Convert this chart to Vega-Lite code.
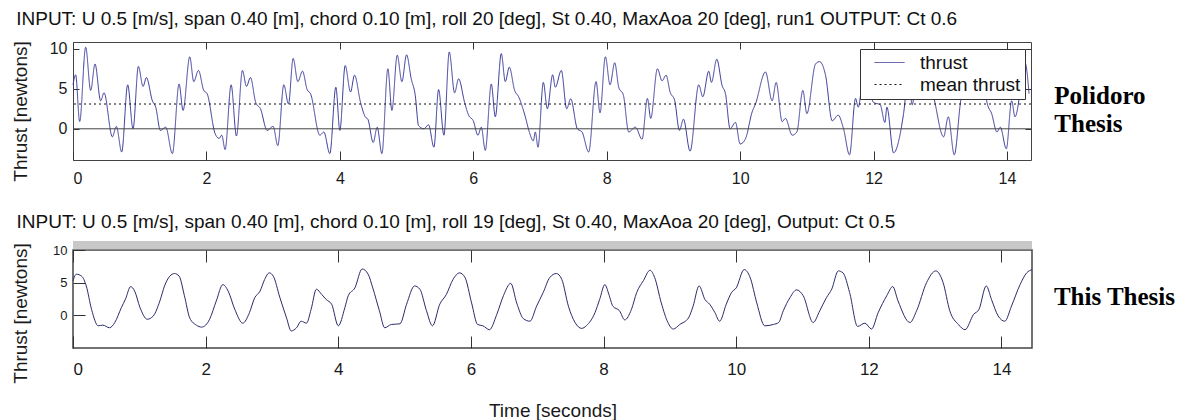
{
  "$schema": "https://vega.github.io/schema/vega-lite/v6.json",
  "background": "white",
  "padding": {"left": 10, "top": 9, "right": 0, "bottom": 0},
  "spacing": 25,
  "resolve": {"legend": {"color": "independent", "strokeDash": "independent"}},
  "config": {
    "font": "Liberation Sans",
    "view": {"stroke": "#444", "strokeWidth": 1},
    "axis": {"domain": false, "grid": false, "labelFont": "Liberation Sans", "titleFont": "Liberation Sans", "labelColor": "#1a1a1a", "titleColor": "#1a1a1a", "titleFontWeight": "normal", "tickColor": "#333"},
    "title": {"font": "Liberation Sans", "fontSize": 19, "fontWeight": "normal", "color": "#111", "anchor": "start"},
    "legend": {"orient": "none", "legendX": 787, "legendY": 7, "fillColor": "white", "strokeColor": "#333", "padding": 4, "labelFontSize": 19, "labelFont": "Liberation Sans", "labelColor": "#111", "symbolType": "M-2.5,0H2.5", "symbolSize": 144, "symbolStrokeWidth": 1, "rowPadding": 2, "symbolOffset": 16, "labelOffset": 21}
  },
  "datasets": {
    "polidoro": [
      {"t":0.0,"thrust":5.5},{"t":0.04,"thrust":6.75},{"t":0.10,"thrust":0.9},{"t":0.19,"thrust":10.2},{"t":0.265,"thrust":4.8},{"t":0.33,"thrust":8.1},{"t":0.415,"thrust":3.5},{"t":0.465,"thrust":4.5},{"t":0.59,"thrust":-1.0},{"t":0.65,"thrust":0.3},{"t":0.73,"thrust":-2.9},{"t":0.82,"thrust":5.5},{"t":0.90,"thrust":0.0},{"t":0.98,"thrust":7.8},{"t":1.05,"thrust":5.3},{"t":1.10,"thrust":6.4},{"t":1.19,"thrust":3.5},{"t":1.24,"thrust":2.7},{"t":1.31,"thrust":-0.2},{"t":1.39,"thrust":0.2},{"t":1.49,"thrust":-3.1},{"t":1.59,"thrust":5.6},{"t":1.65,"thrust":2.3},{"t":1.75,"thrust":9.0},{"t":1.81,"thrust":5.9},{"t":1.88,"thrust":7.3},{"t":1.96,"thrust":4.8},{"t":2.01,"thrust":4.4},{"t":2.13,"thrust":-0.6},{"t":2.19,"thrust":-1.2},{"t":2.23,"thrust":-0.8},{"t":2.28,"thrust":-2.6},{"t":2.37,"thrust":5.5},{"t":2.45,"thrust":-0.9},{"t":2.54,"thrust":7.3},{"t":2.60,"thrust":5.3},{"t":2.66,"thrust":6.4},{"t":2.74,"thrust":3.25},{"t":2.81,"thrust":2.5},{"t":2.91,"thrust":-0.2},{"t":3.00,"thrust":0.3},{"t":3.07,"thrust":-2.1},{"t":3.16,"thrust":5.5},{"t":3.23,"thrust":3.1},{"t":3.30,"thrust":8.8},{"t":3.37,"thrust":5.9},{"t":3.44,"thrust":7.2},{"t":3.51,"thrust":4.9},{"t":3.56,"thrust":4.4},{"t":3.70,"thrust":-0.8},{"t":3.76,"thrust":-0.4},{"t":3.85,"thrust":-3.1},{"t":3.94,"thrust":5.2},{"t":4.00,"thrust":-0.2},{"t":4.08,"thrust":7.9},{"t":4.16,"thrust":4.6},{"t":4.22,"thrust":6.7},{"t":4.31,"thrust":3.3},{"t":4.38,"thrust":1.5},{"t":4.42,"thrust":1.2},{"t":4.50,"thrust":-1.7},{"t":4.56,"thrust":0.2},{"t":4.63,"thrust":-3.1},{"t":4.72,"thrust":7.5},{"t":4.78,"thrust":2.3},{"t":4.86,"thrust":9.2},{"t":4.93,"thrust":5.9},{"t":5.0,"thrust":9.25},{"t":5.07,"thrust":6.25},{"t":5.13,"thrust":4.2},{"t":5.18,"thrust":0.4},{"t":5.26,"thrust":0.0},{"t":5.33,"thrust":0.5},{"t":5.41,"thrust":-2.3},{"t":5.48,"thrust":4.9},{"t":5.56,"thrust":-0.8},{"t":5.64,"thrust":9.6},{"t":5.72,"thrust":4.5},{"t":5.78,"thrust":6.25},{"t":5.87,"thrust":3.3},{"t":5.93,"thrust":1.7},{"t":6.0,"thrust":1.0},{"t":6.07,"thrust":-0.8},{"t":6.12,"thrust":0.2},{"t":6.18,"thrust":-2.7},{"t":6.27,"thrust":5.6},{"t":6.33,"thrust":1.5},{"t":6.42,"thrust":9.4},{"t":6.48,"thrust":5.9},{"t":6.54,"thrust":7.7},{"t":6.62,"thrust":4.8},{"t":6.68,"thrust":4.0},{"t":6.78,"thrust":1.5},{"t":6.84,"thrust":-0.4},{"t":6.90,"thrust":-1.5},{"t":6.93,"thrust":-0.4},{"t":6.97,"thrust":-2.3},{"t":7.05,"thrust":5.8},{"t":7.11,"thrust":2.5},{"t":7.19,"thrust":6.75},{"t":7.23,"thrust":5.2},{"t":7.32,"thrust":7.3},{"t":7.40,"thrust":2.5},{"t":7.46,"thrust":3.75},{"t":7.56,"thrust":0.0},{"t":7.63,"thrust":-0.4},{"t":7.73,"thrust":-2.9},{"t":7.84,"thrust":5.9},{"t":7.90,"thrust":2.0},{"t":7.98,"thrust":9.0},{"t":8.05,"thrust":5.5},{"t":8.12,"thrust":8.25},{"t":8.18,"thrust":5.2},{"t":8.25,"thrust":4.2},{"t":8.33,"thrust":-0.4},{"t":8.43,"thrust":0.2},{"t":8.53,"thrust":-1.3},{"t":8.61,"thrust":3.8},{"t":8.66,"thrust":1.3},{"t":8.76,"thrust":7.5},{"t":8.83,"thrust":6.0},{"t":8.89,"thrust":6.7},{"t":8.95,"thrust":4.6},{"t":9.02,"thrust":3.5},{"t":9.09,"thrust":-0.2},{"t":9.15,"thrust":1.2},{"t":9.25,"thrust":-2.8},{"t":9.38,"thrust":5.5},{"t":9.44,"thrust":4.0},{"t":9.53,"thrust":7.2},{"t":9.57,"thrust":5.8},{"t":9.65,"thrust":8.7},{"t":9.73,"thrust":5.4},{"t":9.78,"thrust":4.4},{"t":9.85,"thrust":0.0},{"t":9.93,"thrust":0.8},{"t":10.0,"thrust":-1.9},{"t":10.08,"thrust":-1.25},{"t":10.18,"thrust":2.1},{"t":10.23,"thrust":3.1},{"t":10.38,"thrust":7.1},{"t":10.48,"thrust":3.5},{"t":10.54,"thrust":5.8},{"t":10.63,"thrust":0.9},{"t":10.68,"thrust":1.3},{"t":10.78,"thrust":-0.8},{"t":10.85,"thrust":-0.4},{"t":10.94,"thrust":4.8},{"t":11.0,"thrust":1.9},{"t":11.13,"thrust":8.1},{"t":11.19,"thrust":8.4},{"t":11.28,"thrust":6.7},{"t":11.38,"thrust":1.0},{"t":11.47,"thrust":1.7},{"t":11.55,"thrust":0.0},{"t":11.64,"thrust":-3.25},{"t":11.73,"thrust":3.8},{"t":11.77,"thrust":2.7},{"t":11.85,"thrust":6.5},{"t":11.93,"thrust":5.0},{"t":12.0,"thrust":3.3},{"t":12.1,"thrust":3.0},{"t":12.17,"thrust":0.8},{"t":12.20,"thrust":2.7},{"t":12.30,"thrust":-3.0},{"t":12.45,"thrust":1.9},{"t":12.52,"thrust":6.5},{"t":12.58,"thrust":3.0},{"t":12.66,"thrust":8.5},{"t":12.73,"thrust":6.0},{"t":12.80,"thrust":7.8},{"t":12.88,"thrust":5.0},{"t":12.92,"thrust":3.3},{"t":13.05,"thrust":-1.0},{"t":13.12,"thrust":1.5},{"t":13.21,"thrust":-3.25},{"t":13.30,"thrust":3.1},{"t":13.36,"thrust":6.5},{"t":13.42,"thrust":4.5},{"t":13.50,"thrust":8.5},{"t":13.57,"thrust":6.0},{"t":13.63,"thrust":7.5},{"t":13.70,"thrust":3.3},{"t":13.77,"thrust":1.9},{"t":13.85,"thrust":-0.4},{"t":13.90,"thrust":0.2},{"t":13.99,"thrust":-2.5},{"t":14.07,"thrust":3.5},{"t":14.12,"thrust":1.5},{"t":14.20,"thrust":5.0},{"t":14.24,"thrust":8.1},{"t":14.27,"thrust":8.3},{"t":14.30,"thrust":7.1},{"t":14.33,"thrust":4.4}
    ],
    "thesis": [
      {"t":0.0,"thrust":5.3},{"t":0.05,"thrust":6.3},{"t":0.13,"thrust":6.0},{"t":0.20,"thrust":4.5},{"t":0.28,"thrust":0.9},{"t":0.38,"thrust":-1.6},{"t":0.45,"thrust":-1.5},{"t":0.55,"thrust":-1.9},{"t":0.63,"thrust":-1.1},{"t":0.73,"thrust":1.2},{"t":0.79,"thrust":2.45},{"t":0.87,"thrust":4.4},{"t":0.93,"thrust":3.7},{"t":1.01,"thrust":1.2},{"t":1.12,"thrust":-0.6},{"t":1.21,"thrust":-0.1},{"t":1.31,"thrust":2.2},{"t":1.38,"thrust":4.5},{"t":1.46,"thrust":6.0},{"t":1.53,"thrust":6.4},{"t":1.60,"thrust":6.0},{"t":1.68,"thrust":3.0},{"t":1.76,"thrust":-0.4},{"t":1.86,"thrust":-1.5},{"t":1.94,"thrust":-1.8},{"t":2.06,"thrust":-0.6},{"t":2.16,"thrust":2.2},{"t":2.26,"thrust":4.7},{"t":2.34,"thrust":3.7},{"t":2.44,"thrust":0.9},{"t":2.56,"thrust":-1.2},{"t":2.66,"thrust":0.4},{"t":2.74,"thrust":2.7},{"t":2.82,"thrust":3.7},{"t":2.89,"thrust":5.5},{"t":2.96,"thrust":6.5},{"t":3.02,"thrust":6.0},{"t":3.12,"thrust":2.7},{"t":3.22,"thrust":-0.4},{"t":3.29,"thrust":-2.4},{"t":3.37,"thrust":-1.9},{"t":3.44,"thrust":-0.9},{"t":3.52,"thrust":-1.2},{"t":3.59,"thrust":0.9},{"t":3.67,"thrust":4.0},{"t":3.75,"thrust":3.2},{"t":3.82,"thrust":2.4},{"t":3.90,"thrust":1.7},{"t":4.0,"thrust":-1.6},{"t":4.10,"thrust":1.2},{"t":4.15,"thrust":3.0},{"t":4.25,"thrust":4.2},{"t":4.36,"thrust":7.1},{"t":4.45,"thrust":6.3},{"t":4.52,"thrust":4.2},{"t":4.62,"thrust":0.7},{"t":4.70,"thrust":-1.9},{"t":4.80,"thrust":-1.4},{"t":4.93,"thrust":-1.3},{"t":5.03,"thrust":1.7},{"t":5.15,"thrust":4.5},{"t":5.23,"thrust":4.0},{"t":5.33,"thrust":0.7},{"t":5.42,"thrust":-1.6},{"t":5.53,"thrust":1.7},{"t":5.63,"thrust":3.2},{"t":5.73,"thrust":5.5},{"t":5.83,"thrust":6.5},{"t":5.91,"thrust":5.8},{"t":6.01,"thrust":1.9},{"t":6.10,"thrust":-1.4},{"t":6.18,"thrust":-1.6},{"t":6.28,"thrust":-2.2},{"t":6.39,"thrust":0.15},{"t":6.49,"thrust":3.0},{"t":6.60,"thrust":4.9},{"t":6.69,"thrust":1.9},{"t":6.79,"thrust":-0.5},{"t":6.89,"thrust":-0.9},{"t":6.99,"thrust":1.4},{"t":7.09,"thrust":3.5},{"t":7.19,"thrust":5.8},{"t":7.29,"thrust":6.4},{"t":7.37,"thrust":5.5},{"t":7.47,"thrust":1.4},{"t":7.57,"thrust":-1.1},{"t":7.67,"thrust":-2.0},{"t":7.74,"thrust":-1.6},{"t":7.87,"thrust":0.4},{"t":7.94,"thrust":2.4},{"t":8.02,"thrust":4.7},{"t":8.08,"thrust":3.2},{"t":8.14,"thrust":1.4},{"t":8.24,"thrust":0.7},{"t":8.32,"thrust":-0.7},{"t":8.42,"thrust":0.9},{"t":8.50,"thrust":3.5},{"t":8.60,"thrust":5.3},{"t":8.70,"thrust":6.9},{"t":8.77,"thrust":5.8},{"t":8.87,"thrust":1.9},{"t":8.97,"thrust":-1.1},{"t":9.05,"thrust":-2.1},{"t":9.15,"thrust":-1.4},{"t":9.28,"thrust":-0.4},{"t":9.35,"thrust":1.4},{"t":9.44,"thrust":4.5},{"t":9.53,"thrust":2.4},{"t":9.60,"thrust":1.7},{"t":9.68,"thrust":0.4},{"t":9.75,"thrust":-0.9},{"t":9.85,"thrust":1.7},{"t":9.93,"thrust":3.5},{"t":10.0,"thrust":4.2},{"t":10.12,"thrust":7.0},{"t":10.21,"thrust":5.8},{"t":10.31,"thrust":1.9},{"t":10.43,"thrust":-1.6},{"t":10.56,"thrust":-1.4},{"t":10.64,"thrust":-1.1},{"t":10.71,"thrust":0.7},{"t":10.81,"thrust":2.7},{"t":10.91,"thrust":3.9},{"t":11.01,"thrust":3.0},{"t":11.16,"thrust":-1.1},{"t":11.26,"thrust":0.7},{"t":11.36,"thrust":2.7},{"t":11.44,"thrust":4.0},{"t":11.54,"thrust":6.8},{"t":11.61,"thrust":6.5},{"t":11.71,"thrust":3.5},{"t":11.83,"thrust":-1.7},{"t":11.94,"thrust":-1.2},{"t":12.04,"thrust":-2.1},{"t":12.14,"thrust":0.4},{"t":12.27,"thrust":3.0},{"t":12.36,"thrust":4.4},{"t":12.44,"thrust":2.2},{"t":12.62,"thrust":-1.1},{"t":12.72,"thrust":0.7},{"t":12.87,"thrust":5.0},{"t":13.01,"thrust":6.8},{"t":13.12,"thrust":5.0},{"t":13.22,"thrust":0.7},{"t":13.35,"thrust":-1.4},{"t":13.45,"thrust":-2.2},{"t":13.58,"thrust":0.15},{"t":13.66,"thrust":0.9},{"t":13.77,"thrust":4.5},{"t":13.85,"thrust":2.4},{"t":13.95,"thrust":-0.1},{"t":14.05,"thrust":-0.9},{"t":14.15,"thrust":1.4},{"t":14.28,"thrust":4.7},{"t":14.38,"thrust":6.5},{"t":14.46,"thrust":7.0}
    ]
  },
  "vconcat": [
    {
      "width": 958,
      "height": 118,
      "title": {"text": "INPUT: U 0.5 [m/s], span 0.40 [m], chord 0.10 [m], roll 20 [deg], St 0.40, MaxAoa 20 [deg], run1 OUTPUT: Ct 0.6", "offset": 12, "dx": 5},
      "resolve": {"axis": {"x": "independent", "y": "independent"}},
      "layer": [
        {
          "data": {"name": "polidoro"},
          "transform": [{"fold": ["thrust"], "as": ["series", "value"]}],
          "mark": {"type": "line", "interpolate": "monotone", "strokeWidth": 1},
          "encoding": {
            "x": {"field": "t", "type": "quantitative", "scale": {"domain": [0, 14.36], "nice": false, "zero": false}, "axis": {"orient": "bottom", "values": [0, 2, 4, 6, 8, 10, 12, 14], "tickSize": -9, "labelPadding": 19, "labelFontSize": 16, "title": null}},
            "y": {"field": "value", "type": "quantitative", "scale": {"domain": [-3.9, 10.85], "nice": false, "zero": false}, "axis": {"orient": "left", "values": [0, 5, 10], "tickSize": -6, "labelPadding": 12, "labelFontSize": 16, "title": "Thrust [newtons]", "titleFontSize": 19, "titlePadding": 19, "titleY": 69}},
            "color": {"field": "series", "type": "nominal", "scale": {"domain": ["thrust", "mean thrust"], "range": ["#3c3c9c", "#111111"]}, "legend": {"title": null}},
            "strokeDash": {"field": "series", "type": "nominal", "scale": {"domain": ["thrust", "mean thrust"], "range": [[1, 0], [2, 3]]}, "legend": {"title": null}}
          }
        },
        {
          "data": {"values": [{"mean thrust": 3.1}]},
          "transform": [{"fold": ["mean thrust"], "as": ["series", "value"]}],
          "mark": {"type": "rule", "strokeWidth": 1},
          "encoding": {
            "y": {"field": "value", "type": "quantitative", "scale": {"domain": [-3.9, 10.85], "nice": false, "zero": false}, "axis": null},
            "color": {"field": "series", "type": "nominal", "scale": {"domain": ["thrust", "mean thrust"], "range": ["#3c3c9c", "#111111"]}, "legend": {"title": null}},
            "strokeDash": {"field": "series", "type": "nominal", "scale": {"domain": ["thrust", "mean thrust"], "range": [[1, 0], [2, 3]]}, "legend": {"title": null}}
          }
        },
        {
          "data": {"values": [{}]},
          "mark": {"type": "rule", "color": "#444", "strokeWidth": 1},
          "encoding": {
            "y": {"datum": 0, "type": "quantitative", "scale": {"domain": [-3.9, 10.85], "nice": false, "zero": false}, "axis": null}
          }
        },
        {
          "data": {"values": [{}]},
          "mark": {"type": "text", "text": ["Polidoro", "Thesis"], "font": "Liberation Serif", "fontWeight": "bold", "fontSize": 25, "lineHeight": 28, "align": "left", "baseline": "middle", "color": "#000"},
          "encoding": {
            "x": {"datum": 14.71, "type": "quantitative", "scale": {"domain": [0, 14.36], "nice": false, "zero": false}, "axis": {"orient": "top", "values": [0, 2, 4, 6, 8, 10, 12, 14], "tickSize": -7, "labels": false, "title": null}},
            "y": {"datum": 4.05, "type": "quantitative", "scale": {"domain": [-3.9, 10.85], "nice": false, "zero": false}, "axis": {"orient": "right", "values": [0, 5, 10], "tickSize": -6, "labels": false, "title": null}}
          }
        }
      ]
    },
    {
      "width": 959,
      "height": 98,
      "view": {"stroke": "#444", "strokeWidth": 1.5},
      "title": {"text": "INPUT: U 0.5 [m/s], span 0.40 [m], chord 0.10 [m], roll 19 [deg], St 0.40, MaxAoa 20 [deg], Output: Ct 0.5", "offset": 9, "dx": 5},
      "resolve": {"axis": {"x": "independent", "y": "independent"}},
      "layer": [
        {
          "data": {"values": [{}]},
          "mark": {"type": "rect", "color": "#c8c8c8", "clip": false},
          "encoding": {
            "x": {"datum": 0, "type": "quantitative", "scale": {"domain": [0, 14.46], "nice": false, "zero": false}, "axis": null},
            "x2": {"datum": 14.46},
            "y": {"datum": 10.1, "type": "quantitative", "scale": {"domain": [-5, 10], "nice": false, "zero": false}, "axis": null},
            "y2": {"datum": 11.38}
          }
        },
        {
          "data": {"name": "thesis"},
          "mark": {"type": "line", "interpolate": "monotone", "strokeWidth": 1, "color": "#2b2b6b"},
          "encoding": {
            "x": {"field": "t", "type": "quantitative", "scale": {"domain": [0, 14.46], "nice": false, "zero": false}, "axis": {"orient": "bottom", "values": [0, 2, 4, 6, 8, 10, 12, 14], "tickSize": -12, "labelPadding": 25, "labelFontSize": 17, "title": "Time [seconds]", "titleFontSize": 19, "titlePadding": 24}},
            "y": {"field": "thrust", "type": "quantitative", "scale": {"domain": [-5, 10], "nice": false, "zero": false}, "axis": {"orient": "left", "values": [0, 5, 10], "tickSize": -12, "labelPadding": 18, "labelFontSize": 13, "title": "Thrust [newtons]", "titleFontSize": 19, "titlePadding": 22, "titleY": 63}}
          }
        },
        {
          "data": {"values": [{}]},
          "mark": {"type": "text", "text": "This Thesis", "font": "Liberation Serif", "fontWeight": "bold", "fontSize": 25, "align": "left", "baseline": "middle", "color": "#000"},
          "encoding": {
            "x": {"datum": 14.79, "type": "quantitative", "scale": {"domain": [0, 14.46], "nice": false, "zero": false}, "axis": {"orient": "top", "values": [0, 2, 4, 6, 8, 10, 12, 14], "tickSize": -12, "labels": false, "title": null}},
            "y": {"datum": 2.75, "type": "quantitative", "scale": {"domain": [-5, 10], "nice": false, "zero": false}, "axis": null}
          }
        }
      ]
    }
  ]
}
